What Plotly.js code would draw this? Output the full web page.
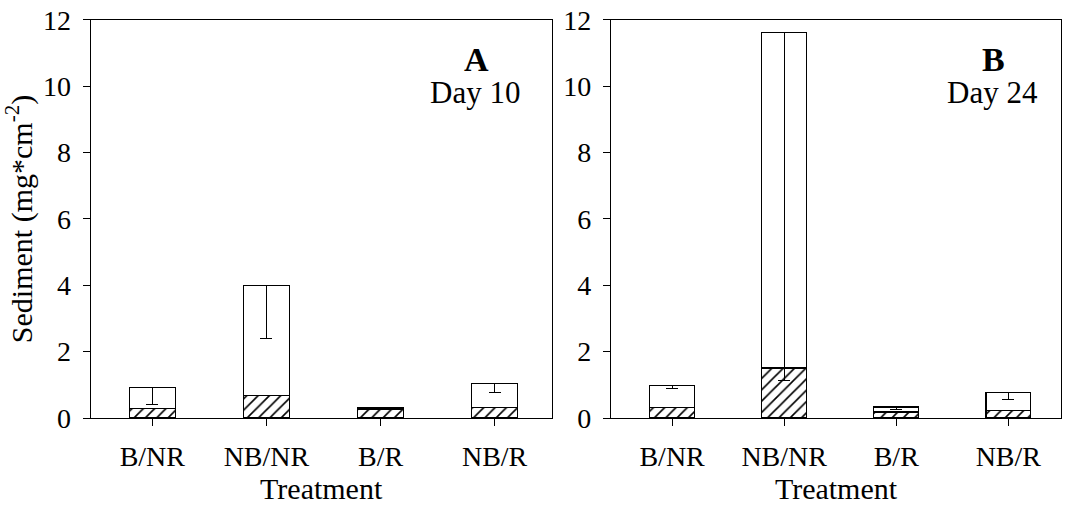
<!DOCTYPE html>
<html>
<head>
<meta charset="utf-8">
<script src="https://cdn.plot.ly/plotly-3.0.1.min.js"></script>
<style>html,body{margin:0;padding:0;background:#fff;}#chart{width:1066px;height:507px;}</style>
</head>
<body>
<div id="chart"></div>
<script>
// ---- data ----
var treatments = ["B/NR", "NB/NR", "B/R", "NB/R"];

// Panel A (Day 10)
var day10Hatched = [0.28, 0.68, 0.27, 0.32];
var day10Total   = [0.93, 4.00, 0.30, 1.04];
var day10ErrDown = [0.53, 1.60, 0.03, 0.27];

// Panel B (Day 24)
var day24Hatched = [0.31, 1.51, 0.18, 0.22];
var day24Total   = [0.97, 11.62, 0.33, 0.77];
var day24ErrDown = [0.07, 10.50, 0.08, 0.21];

var yTicks = [0, 2, 4, 6, 8, 10, 12];

// ---- build ----
var FONT = "Liberation Serif, Times New Roman, serif";
function upper(total, hatched) { return total.map(function (t, i) { return +(t - hatched[i]).toFixed(4); }); }
function zeros(n) { var a = []; for (var i = 0; i < n; i++) a.push(0); return a; }

function panel(hatched, total, err, xa, ya) {
  return [
    {
      type: "bar", x: treatments, y: hatched, xaxis: xa, yaxis: ya, width: 0.4,
      marker: { color: "white", line: { color: "black", width: 1.2 },
                pattern: { shape: "/", fgcolor: "black", bgcolor: "white", size: 8, solidity: 0.2 } },
      showlegend: false, hoverinfo: "skip"
    },
    {
      type: "bar", x: treatments, y: upper(total, hatched), xaxis: xa, yaxis: ya, width: 0.4,
      marker: { color: "white", line: { color: "black", width: 1.2 } },
      error_y: { type: "data", symmetric: false, array: zeros(treatments.length), arrayminus: err,
                 color: "black", thickness: 1.2, width: 6 },
      showlegend: false, hoverinfo: "skip"
    }
  ];
}

var data = panel(day10Hatched, day10Total, day10ErrDown, "x", "y")
  .concat(panel(day24Hatched, day24Total, day24ErrDown, "x2", "y2"));

function xAxis(dom, range, anchor) {
  return {
    domain: dom, range: range, anchor: anchor, type: "category",
    showline: true, linecolor: "black", linewidth: 1.2, mirror: true,
    ticks: "outside", ticklen: 7, tickcolor: "black", tickwidth: 1,
    showgrid: false, zeroline: false, ticklabelstandoff: 6,
    tickfont: { family: FONT, size: 28, color: "black" },
    title: { text: "Treatment", font: { family: FONT, size: 30, color: "black" }, standoff: 4 }
  };
}
function yAxis(dom, anchor, withTitle) {
  var a = {
    domain: dom, range: [0, 12], anchor: anchor, tickvals: yTicks,
    showline: true, linecolor: "black", linewidth: 1.2, mirror: true,
    ticks: "outside", ticklen: 7, tickcolor: "black", tickwidth: 1,
    showgrid: false, zeroline: false, ticklabelstandoff: 6,
    tickfont: { family: FONT, size: 28, color: "black" }
  };
  if (withTitle) a.title = { text: "Sediment (mg*cm<sup>-2</sup>)", font: { family: FONT, size: 30, color: "black" }, standoff: 1 };
  return a;
}

var yDom = [0.1755, 0.9606];
var layout = {
  width: 1066, height: 507,
  margin: { l: 0, r: 0, t: 0, b: 0 },
  paper_bgcolor: "white", plot_bgcolor: "white",
  barmode: "stack",
  xaxis: xAxis([0.0851, 0.5175], [-0.54, 3.5], "y"),
  yaxis: yAxis(yDom, "x", true),
  xaxis2: xAxis([0.5732, 0.9953], [-0.545, 3.47], "y2"),
  yaxis2: yAxis(yDom, "x2", false),
  annotations: [
    { text: "<b>A</b>", xref: "paper", yref: "paper", x: 0.447, y: 0.8836, xanchor: "center", yanchor: "middle",
      showarrow: false, font: { family: FONT, size: 34, color: "black" } },
    { text: "Day 10", xref: "paper", yref: "paper", x: 0.4456, y: 0.817, xanchor: "center", yanchor: "middle",
      showarrow: false, font: { family: FONT, size: 31, color: "black" } },
    { text: "<b>B</b>", xref: "paper", yref: "paper", x: 0.9318, y: 0.8836, xanchor: "center", yanchor: "middle",
      showarrow: false, font: { family: FONT, size: 34, color: "black" } },
    { text: "Day 24", xref: "paper", yref: "paper", x: 0.9315, y: 0.817, xanchor: "center", yanchor: "middle",
      showarrow: false, font: { family: FONT, size: 31, color: "black" } }
  ]
};

Plotly.newPlot("chart", data, layout, { staticPlot: true, displayModeBar: false });
</script>
</body>
</html>
